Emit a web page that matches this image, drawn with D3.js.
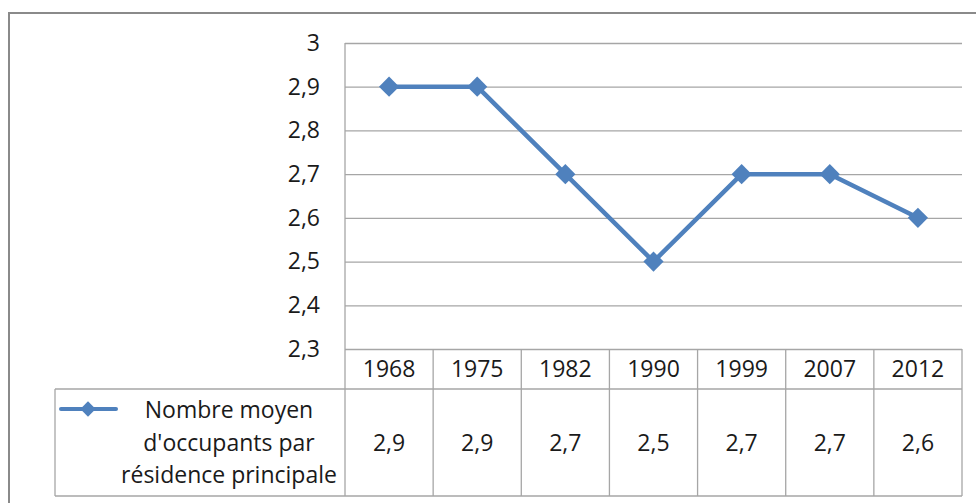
<!DOCTYPE html>
<html>
<head>
<meta charset="utf-8">
<script src="https://cdn.jsdelivr.net/npm/d3@7"></script>
<style>
  body { margin: 0; background: #fff; }
  svg { display: block; font-family: "Open Sans", sans-serif; }
</style>
</head>
<body>
<div id="chart"></div>
<script>
// data
var years = ["1968", "1975", "1982", "1990", "1999", "2007", "2012"]
var values = [2.9, 2.9, 2.7, 2.5, 2.7, 2.7, 2.6]
var yTicks = [2.3, 2.4, 2.5, 2.6, 2.7, 2.8, 2.9, 3]
var seriesLabel = ["Nombre moyen", "d'occupants par", "résidence principale"]

var W = 976, H = 503
var plot = { left: 345, right: 962, top: 43, bottom: 349 }
var table = { left: 55, headBottom: 389, bottom: 496 }
var blue = "#4f81bd", grid = "#a6a6a6", ink = "#1a1a1a"

var svg = d3.select("#chart").append("svg").attr("width", W).attr("height", H)

// outer frame (runs off the right and bottom edge)
svg.append("rect").attr("x", 9).attr("y", 13).attr("width", W).attr("height", H)
    .attr("fill", "none").attr("stroke", "#8a8a8a").attr("stroke-width", 2)

var x = d3.scaleBand().domain(years).range([plot.left, plot.right]).padding(0)
var y = d3.scaleLinear().domain([2.3, 3]).range([plot.bottom, plot.top])
var fmt = d => String(d).replace(".", ",")

// gridlines + y labels
var yAxis = svg.append("g").attr("transform", `translate(${plot.left},0)`)
    .call(d3.axisLeft(y).tickValues(yTicks).tickSize(-(plot.right - plot.left)).tickFormat(fmt).tickPadding(25))
yAxis.select(".domain").remove()
yAxis.selectAll(".tick line").attr("stroke", grid).attr("stroke-width", 1.3)
yAxis.selectAll(".tick text").attr("fill", ink).style("font-size", "23px")
    .style("font-family", "'Open Sans', sans-serif")

// axis line
svg.append("line").attr("x1", plot.left).attr("x2", plot.left)
    .attr("y1", plot.top).attr("y2", table.bottom).attr("stroke", grid).attr("stroke-width", 1.3)

// data table lines
var tl = svg.append("g").attr("stroke", grid).attr("stroke-width", 1.3)
tl.append("line").attr("x1", table.left).attr("x2", plot.right).attr("y1", table.headBottom).attr("y2", table.headBottom)
tl.append("line").attr("x1", table.left).attr("x2", plot.right).attr("y1", table.bottom).attr("y2", table.bottom)
tl.append("line").attr("x1", table.left).attr("x2", table.left).attr("y1", table.headBottom).attr("y2", table.bottom)
tl.selectAll(".col").data(years).enter().append("line")
    .attr("x1", d => x(d) + x.bandwidth()).attr("x2", d => x(d) + x.bandwidth())
    .attr("y1", plot.bottom).attr("y2", table.bottom)

var txt = svg.append("g").attr("fill", ink).attr("text-anchor", "middle").style("font-size", "23px")
txt.selectAll(".yr").data(years).enter().append("text")
    .attr("x", d => x(d) + x.bandwidth() / 2).attr("y", (plot.bottom + table.headBottom) / 2)
    .attr("dy", "0.35em").text(d => d)
txt.selectAll(".val").data(values).enter().append("text")
    .attr("x", (d, i) => x(years[i]) + x.bandwidth() / 2).attr("y", 443)
    .attr("dy", "0.35em").text(fmt)

// legend key in table
txt.selectAll(".lab").data(seriesLabel).enter().append("text")
    .attr("x", 229).attr("y", (d, i) => 410 + i * 32.5).attr("dy", "0.35em").text(d => d)
svg.append("line").attr("x1", 61).attr("x2", 116).attr("y1", 409).attr("y2", 409)
    .attr("stroke", blue).attr("stroke-width", 4).attr("stroke-linecap", "round")
svg.append("path").attr("d", d3.symbol(d3.symbolDiamond2, 150)())
    .attr("transform", "translate(88,409)").attr("fill", blue)

// series line
var line = d3.line().x((d, i) => x(years[i]) + x.bandwidth() / 2).y(d => y(d))
svg.append("path").datum(values).attr("d", line)
    .attr("fill", "none").attr("stroke", blue).attr("stroke-width", 4.5).attr("stroke-linejoin", "round")
svg.selectAll(".pt").data(values).enter().append("path")
    .attr("d", d3.symbol(d3.symbolDiamond2, 260)())
    .attr("transform", (d, i) => `translate(${x(years[i]) + x.bandwidth() / 2},${y(d)})`)
    .attr("fill", blue)
</script>
</body>
</html>
